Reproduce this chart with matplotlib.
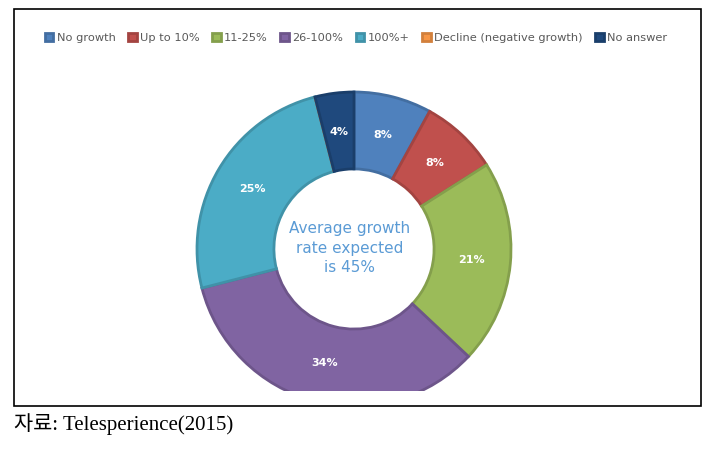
import matplotlib
matplotlib.use("Agg")
from matplotlib import pyplot as plt
from matplotlib.patches import Rectangle
import matplotlib.colors as mcolors

categories = ["No growth", "Up to 10%", "11-25%", "26-100%", "100%+",
              "Decline (negative growth)", "No answer"]
shares = [8, 8, 21, 34, 25, 0, 4]
colors = ["#4F81BD", "#C0504D", "#9BBB59", "#8064A2", "#4BACC6", "#F79646", "#1F497D"]
centerText = "Average growth\nrate expected\nis 45%"
sourceText = "자료: Telesperience(2015)"

W, H = 710, 454


def darker(c, f=0.85):
    r, g, b = mcolors.to_rgb(c)
    return (r * f, g * f, b * f)


fig = plt.figure(figsize=(W / 100, H / 100), dpi=100)

# frame around the chart
fig.patches.append(Rectangle((14 / W, 1 - 406 / H), 687 / W, 397 / H,
                             transform=fig.transFigure, fill=False,
                             edgecolor="black", linewidth=1.2))

# axes in pixel units, bottom clipped like the original picture
ax = fig.add_axes([14 / W, 1 - 391 / H, 687 / W, 382 / H])
cx, cy, r = 354, H - 249, 157

wedges, texts, autotexts = ax.pie(
    shares, colors=colors, startangle=90, counterclock=False,
    center=(cx, cy), radius=r,
    autopct=lambda p: "%d%%" % round(p) if p > 0 else "",
    pctdistance=0.75,
    wedgeprops=dict(width=r * 0.49, linewidth=2),
    textprops=dict(color="white", fontsize=8, fontweight="bold"))
for w, c in zip(wedges, colors):
    w.set_edgecolor(darker(c))
    w.set_clip_on(True)
    w.set_clip_box(ax.bbox)

ax.set_xlim(14, 701)
ax.set_ylim(H - 391, H - 9)
ax.set_aspect("auto")
ax.axis("off")

ax.text(cx - 4, cy + 1, centerText, ha="center", va="center",
        fontsize=11, color="#5B9BD5", linespacing=1.4)

fig.legend(wedges, categories, loc="center", bbox_to_anchor=(356 / W, 1 - 38 / H),
           ncol=7, frameon=False, fontsize=8.2, labelcolor="#595959",
           handlelength=0.75, handleheight=0.75, handletextpad=0.3,
           columnspacing=1.1, borderaxespad=0)

fig.text(14 / W, 1 - 424 / H, sourceText, ha="left", va="center",
         fontsize=15, color="black", family=["Liberation Serif", "Noto Sans CJK KR"])

fig.savefig("out.png", dpi=100)
plt.close()
